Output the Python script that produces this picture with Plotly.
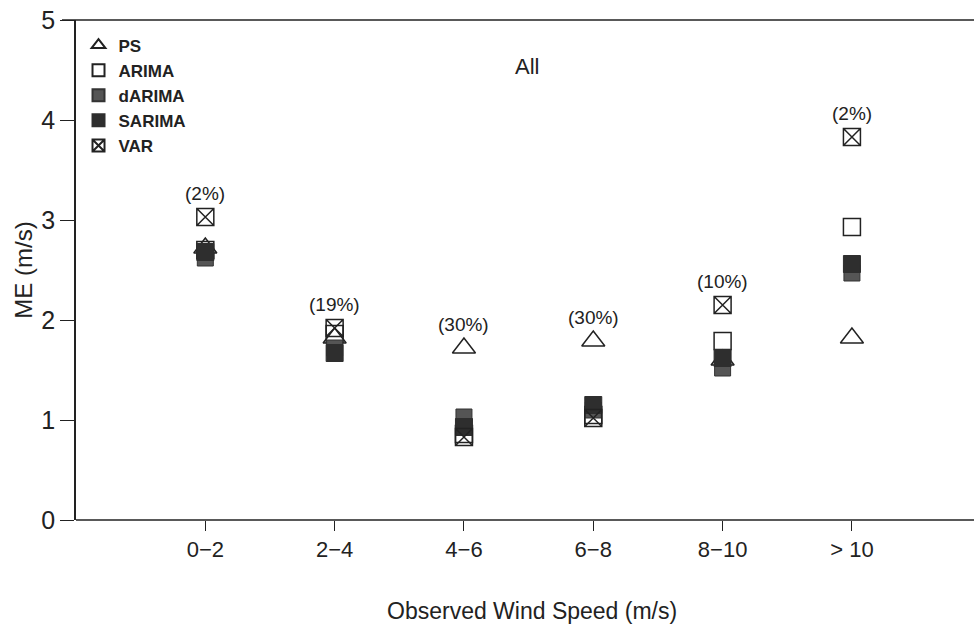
import plotly.graph_objects as go

categories = ["0\u22122", "2\u22124", "4\u22126", "6\u22128", "8\u221210", "> 10"]
ps = [2.72, 1.82, 1.72, 1.79, 1.60, 1.82]
arima = [2.70, 1.86, 0.86, 1.05, 1.79, 2.93]
darima = [2.62, 1.72, 1.03, 1.10, 1.52, 2.47]
sarima = [2.68, 1.67, 0.93, 1.15, 1.62, 2.56]
var = [3.03, 1.92, 0.83, 1.02, 2.15, 3.83]
pct_labels = ["(2%)", "(19%)", "(30%)", "(30%)", "(10%)", "(2%)"]

FONT = "Liberation Sans, Arial, sans-serif"
INK = "#222222"
xpos = list(range(len(categories)))

PLOT_W = 974 - 76 - 60  # plot area width in px
EDGE = (1010 - 76) / PLOT_W  # frame lines run past the page edge

fig = go.Figure()
fig.add_trace(go.Scatter(x=xpos, y=ps, mode="markers", name="PS",
                         marker=dict(symbol="triangle-up-open", size=20, color=INK, line=dict(width=1.5, color=INK))))
fig.add_trace(go.Scatter(x=xpos, y=arima, mode="markers", name="ARIMA",
                         marker=dict(symbol="square-open", size=17, color=INK, line=dict(width=1.5, color=INK))))
fig.add_trace(go.Scatter(x=xpos, y=darima, mode="markers", name="dARIMA",
                         marker=dict(symbol="square", size=16, color="#555555",
                                     line=dict(width=1, color="#333333"))))
fig.add_trace(go.Scatter(x=xpos, y=sarima, mode="markers", name="SARIMA",
                         marker=dict(symbol="square", size=17, color="#2e2e2e", line=dict(width=1, color="#2e2e2e"))))
fig.add_trace(go.Scatter(x=xpos, y=var, mode="markers", name="VAR",
                         marker=dict(symbol="square-x-open", size=17, color=INK, line=dict(width=1.5, color=INK))))

for i, lab in enumerate(pct_labels):
    top = max(ps[i], arima[i], darima[i], sarima[i], var[i])
    fig.add_annotation(x=xpos[i], y=top, text=lab, showarrow=False, yshift=24,
                       font=dict(family=FONT, size=19, color=INK))

fig.add_annotation(xref="paper", yref="paper", x=(527 - 76) / PLOT_W, y=1 - (52 - 20) / 500,
                   text="All", showarrow=False, font=dict(family=FONT, size=22, color=INK))

# x-axis title, centred under the full visible frame
fig.add_annotation(xref="paper", yref="paper", x=(532 - 76) / PLOT_W, y=(520 - 611) / 500,
                   yanchor="middle", text="Observed Wind Speed (m/s)", showarrow=False,
                   font=dict(family=FONT, size=23, color=INK))

# top and bottom frame lines running off the page edge
fig.add_shape(type="line", xref="paper", yref="paper", x0=-14 / PLOT_W, x1=EDGE, y0=1, y1=1,
              line=dict(color=INK, width=1.5))
fig.add_shape(type="line", xref="paper", yref="paper", x0=0, x1=EDGE, y0=0, y1=0,
              line=dict(color=INK, width=1.5))

fig.update_layout(
    width=974, height=635,
    margin=dict(l=76, r=60, t=20, b=115, autoexpand=False),
    paper_bgcolor="white", plot_bgcolor="white",
    font=dict(family=FONT, color=INK),
    legend=dict(x=0.003, y=0.985, xanchor="left", yanchor="top",
                font=dict(family=FONT, size=17, color=INK, weight="bold"),
                bgcolor="rgba(0,0,0,0)", itemsizing="constant", tracegroupgap=0, itemwidth=30),
    xaxis=dict(range=[-1, 5.48], tickmode="array", tickvals=xpos, ticktext=categories,
               showgrid=False, zeroline=False, showline=False,
               ticks="outside", ticklen=10, tickcolor=INK,
               tickfont=dict(family=FONT, size=22, color=INK)),
    yaxis=dict(range=[0, 5], tickvals=[0, 1, 2, 3, 4, 5], showgrid=False, zeroline=False,
               showline=True, linecolor=INK, linewidth=1.5, ticks="outside", ticklen=14, tickcolor=INK,
               tickfont=dict(family=FONT, size=25, color=INK),
               title=dict(text="ME (m/s)", font=dict(family=FONT, size=24, color=INK), standoff=2)),
)

fig.write_html("out.html")
